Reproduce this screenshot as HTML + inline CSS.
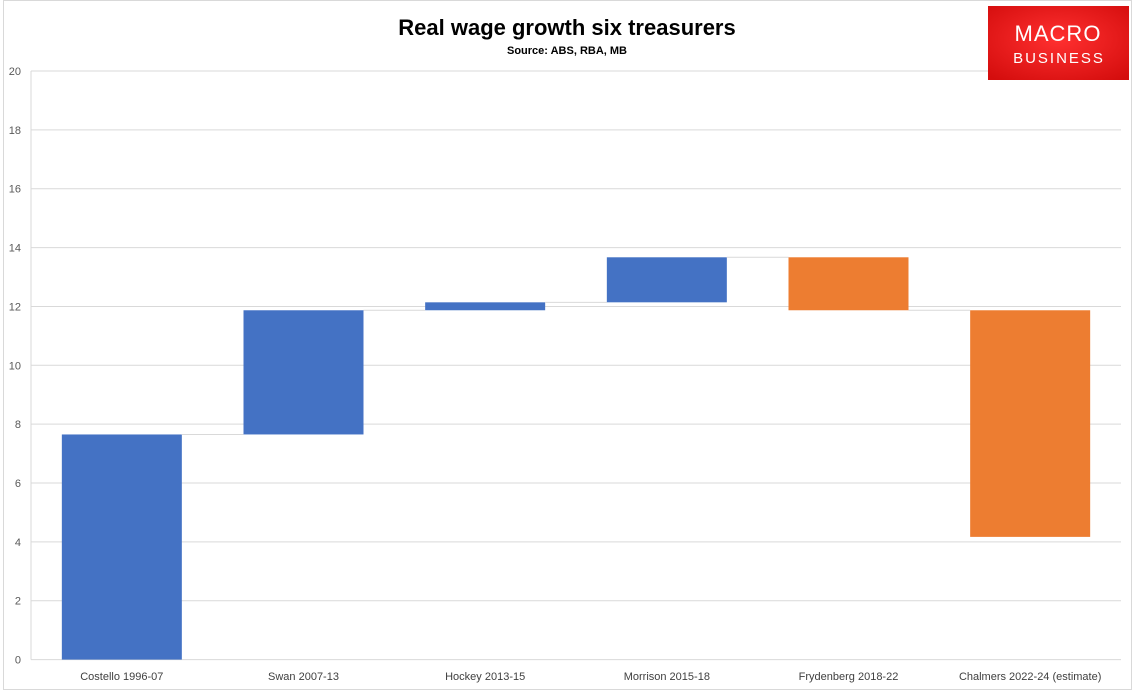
<!DOCTYPE html>
<html><head><meta charset="utf-8"><style>
body{margin:0;background:#fff;font-family:"Liberation Sans",Arial,sans-serif}
svg{display:block}
</style></head><body>
<svg width="1135" height="694" id="chart">
<rect x="3.5" y="0.5" width="1128" height="689" fill="#fff" stroke="#d9d9d9"/>
<text x="567" y="35" text-anchor="middle" font-size="22" font-weight="bold" fill="#000">Real wage growth six treasurers</text>
<text x="567" y="54" text-anchor="middle" font-size="11" font-weight="bold" fill="#000">Source: ABS, RBA, MB</text>
<g id="grid"></g><g id="bars"></g><g id="labels"></g>
<defs><radialGradient id="lg" cx="50%" cy="45%" r="70%"><stop offset="0" stop-color="#ff3030"/><stop offset="1" stop-color="#d40d0d"/></radialGradient></defs>
<g>
<rect x="988" y="6" width="141" height="74" fill="url(#lg)"/>
<text x="1058" y="41" text-anchor="middle" font-size="22" fill="#fff" letter-spacing="1">MACRO</text>
<text x="1059" y="63" text-anchor="middle" font-size="15" fill="#fff" letter-spacing="2">BUSINESS</text>
</g>
</svg>
<script>
const categories=["Costello 1996-07","Swan 2007-13","Hockey 2013-15","Morrison 2015-18","Frydenberg 2018-22","Chalmers 2022-24 (estimate)"];
const deltas=[7.65,4.22,0.27,1.53,-1.8,-7.7];
const yTicks=[0,2,4,6,8,10,12,14,16,18,20];
const NS="http://www.w3.org/2000/svg";
const L=31,R=1121,T=71,B=659.6,yMax=20;
const y=v=>B-(B-T)*v/yMax;
const bw=(R-L)/categories.length;
const x=i=>L+bw*i+bw/2;
function mk(t,a,p){const e=document.createElementNS(NS,t);for(const k in a)e.setAttribute(k,a[k]);document.getElementById(p).appendChild(e);return e;}
yTicks.forEach(v=>{
 const g=mk('line',{x1:L,x2:R,y1:y(v),y2:y(v),stroke:'#d9d9d9','stroke-width':1},'grid');
 
 
 const t=mk('text',{x:21,y:y(v)+4,'text-anchor':'end','font-size':11,fill:'#595959'},'labels');
 t.textContent=v;
 
 
});
const ax=mk('line',{x1:L,x2:L,y1:T,y2:B,stroke:'#d9d9d9'},'grid');


let cum=0;const hw=60;
categories.forEach((c,i)=>{
 const s=cum,e=cum+deltas[i];
 const top=Math.max(s,e),bot=Math.min(s,e);
 const r=mk('rect',{x:x(i)-hw,y:y(top),width:hw*2,height:Math.max(1,y(bot)-y(top)),fill:deltas[i]>=0?'#4472c4':'#ed7d31'},'bars');
 
 
 if(i<categories.length-1){
  const l=mk('line',{x1:x(i)+hw,x2:x(i+1)-hw,y1:y(e),y2:y(e),stroke:'#d9d9d9','stroke-width':1},'bars');
  
  
 }
 const t=mk('text',{x:x(i),y:680,'text-anchor':'middle','font-size':11,fill:'#404040'},'labels');
 t.textContent=c;
 
 
 cum=e;
});
</script>
</body></html>
